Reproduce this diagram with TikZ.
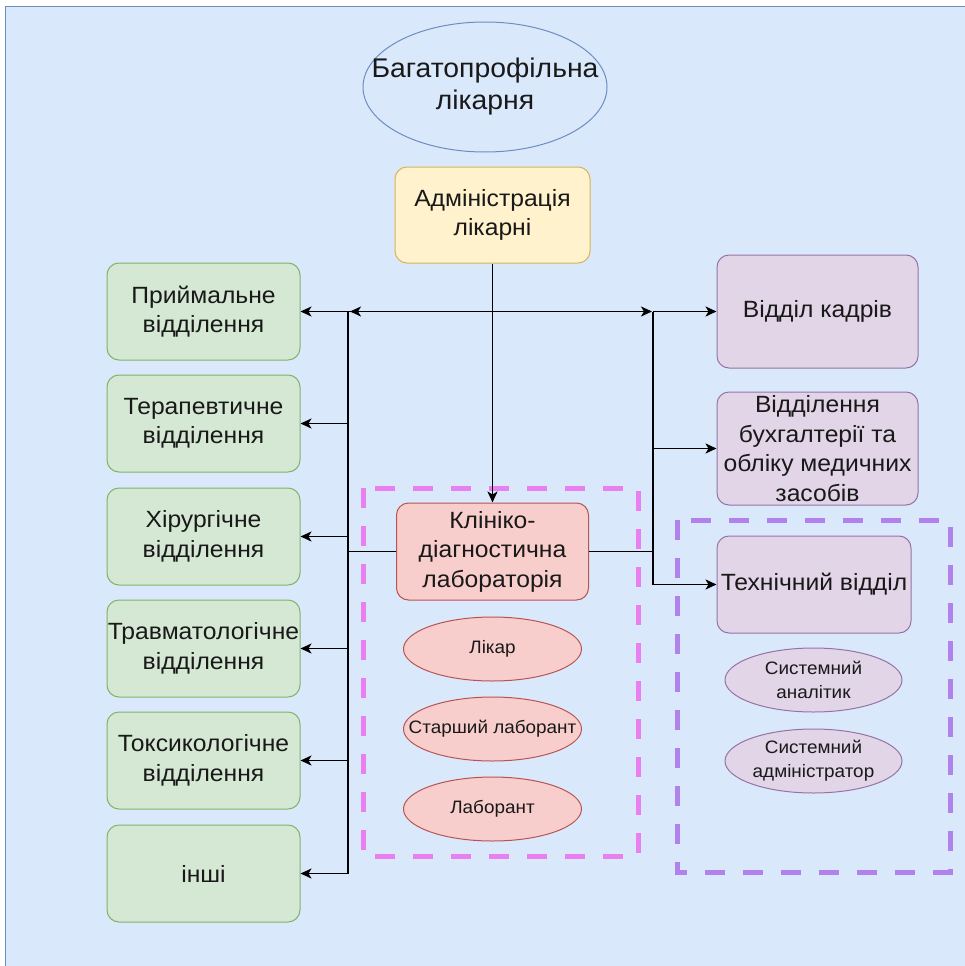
\documentclass[tikz,border=0pt]{standalone}
\usepackage{fontspec}
\setmainfont{Liberation Sans}[FakeStretch=1.05]
\usetikzlibrary{arrows.meta,shapes.geometric}
\definecolor{bgfill}{HTML}{DAE8FC}
\definecolor{bgline}{HTML}{6C8EBF}
\definecolor{grfill}{HTML}{D5E8D4}
\definecolor{grline}{HTML}{82B366}
\definecolor{yefill}{HTML}{FFF2CC}
\definecolor{yeline}{HTML}{D6B656}
\definecolor{rdfill}{HTML}{F8CECC}
\definecolor{rdline}{HTML}{B85450}
\definecolor{pufill}{HTML}{E1D5E7}
\definecolor{puline}{HTML}{9673A6}
\definecolor{pinkdash}{RGB}{234,128,240}
\definecolor{violetdash}{RGB}{178,130,236}
\definecolor{ink}{RGB}{25,25,25}
\begin{document}
\begin{tikzpicture}[x=1pt,y=-1pt,
  txt/.style={font=\fontsize{23.5}{29.5}\selectfont, text=ink, align=center, inner sep=0pt},
  bigtxt/.style={font=\fontsize{27}{32}\selectfont, text=ink, align=center, inner sep=0pt},
  smalltxt/.style={font=\fontsize{18}{24}\selectfont, text=ink, align=center, inner sep=0pt},
  box/.style={rectangle, rounded corners=12pt, line width=1pt, inner sep=0pt},
  green/.style={box, fill=grfill, draw=grline, minimum width=193, minimum height=97},
  yellow/.style={box, fill=yefill, draw=yeline, minimum width=195, minimum height=96},
  red/.style={box, fill=rdfill, draw=rdline, minimum width=192, minimum height=97},
  violet/.style={box, fill=pufill, draw=puline, minimum width=201, minimum height=113},
  redell/.style={ellipse, fill=rdfill, draw=rdline, line width=1pt, inner sep=0pt, minimum width=178, minimum height=64},
  violetell/.style={ellipse, fill=pufill, draw=puline, line width=1pt, inner sep=0pt, minimum width=177, minimum height=64},
  conn/.style={line width=1.8pt, draw=black},
  tip/.style={-{Stealth[length=11pt,width=10pt,inset=3pt]}},
  group/.style={line width=5pt, dash pattern=on 20pt off 18pt}
]
\useasboundingbox (0,0) rectangle (965,966);
\clip (0,0) rectangle (965,966);
\fill[white] (0,0) rectangle (965,966);
\draw[fill=bgfill, draw=bgline, line width=1.5pt] (5.5,6.5) rectangle (1000,1000);

% dashed group frames
\draw[group, draw=pinkdash] (363,488) rectangle (638,856);
\draw[group, draw=violetdash] (677,520) rectangle (950,872);

% top of the hierarchy
\node[ellipse, fill=bgfill, draw=bgline, line width=1pt, inner sep=0pt,
      minimum width=244, minimum height=130,
      label={[bigtxt]center:Багатопрофільна\\лікарня}] (hosp) at (485,87) {};
\node[yellow, label={[txt]center:Адміністрація\\лікарні}] (admin) at (492.5,215) {};

% clinical departments
\node[green, label={[txt]center:Приймальне\\відділення}] (g1) at (203.5,311.5) {};
\node[green, label={[txt]center:Терапевтичне\\відділення}] (g2) at (203.5,423.5) {};
\node[green, label={[txt]center:Хірургічне\\відділення}] (g3) at (203.5,536.5) {};
\node[green, label={[txt]center:Травматологічне\\відділення}] (g4) at (203.5,648.5) {};
\node[green, label={[txt]center:Токсикологічне\\відділення}] (g5) at (203.5,760.5) {};
\node[green, label={[txt]center:інші}] (g6) at (203.5,873.5) {};

% laboratory
\node[red, label={[txt]center:Клініко-\\діагностична\\лабораторія}] (lab) at (492.5,551.5) {};
\node[redell, label={[smalltxt]center:Лікар}] (doc) at (492.5,649) {};
\node[redell, label={[smalltxt]center:Старший лаборант}] (senior) at (492.5,729) {};
\node[redell, label={[smalltxt]center:Лаборант}] (labtech) at (492.5,809) {};

% administrative departments
\node[violet, label={[txt]center:Відділ кадрів}] (hr) at (817.5,311.5) {};
\node[violet, label={[txt]center:Відділення\\бухгалтерії та\\обліку медичних\\засобів}] (acc) at (817.5,448.5) {};
\node[violet, minimum width=194, minimum height=97, label={[txt]center:Технічний відділ}] (tech) at (814,584.5) {};
\node[violetell, label={[smalltxt]center:Системний\\аналітик}] (analyst) at (813.5,680) {};
\node[violetell, label={[smalltxt]center:Системний\\адміністратор}] (sysadm) at (813.5,761) {};

% bus points
\coordinate (jA) at (admin.south |- g1.east);
\coordinate (lbusT) at (348,311.5);
\coordinate (lbusB) at (lbusT |- g6.east);
\coordinate (rbusT) at (653,311.5);
\coordinate (rbusB) at (rbusT |- tech.west);

% connectors
\draw[conn] (lbusT) -- (lbusB);
\draw[conn, tip] (jA) -- (g1.east);
\draw[conn, tip] (jA) -- ([xshift=2pt]lbusT);
\draw[conn, tip] (jA) -- ([xshift=-1pt]rbusT);
\draw[conn, tip] (rbusT) -- (hr.west);
\draw[conn] (rbusT) -- (rbusB);
\draw[conn, tip] (rbusT |- acc.west) -- (acc.west);
\draw[conn, tip] (admin.south) -- (lab.north);
\foreach \g in {g2,g3,g4,g5,g6}
  \draw[conn, tip] (lbusT |- \g.east) -- (\g.east);
\draw[conn] (lab.west) -- (lab.west -| lbusT);
\draw[conn, tip] (lab.east) -- (lab.east -| rbusT) -- (rbusB) -- (tech.west);
\end{tikzpicture}
\end{document}
